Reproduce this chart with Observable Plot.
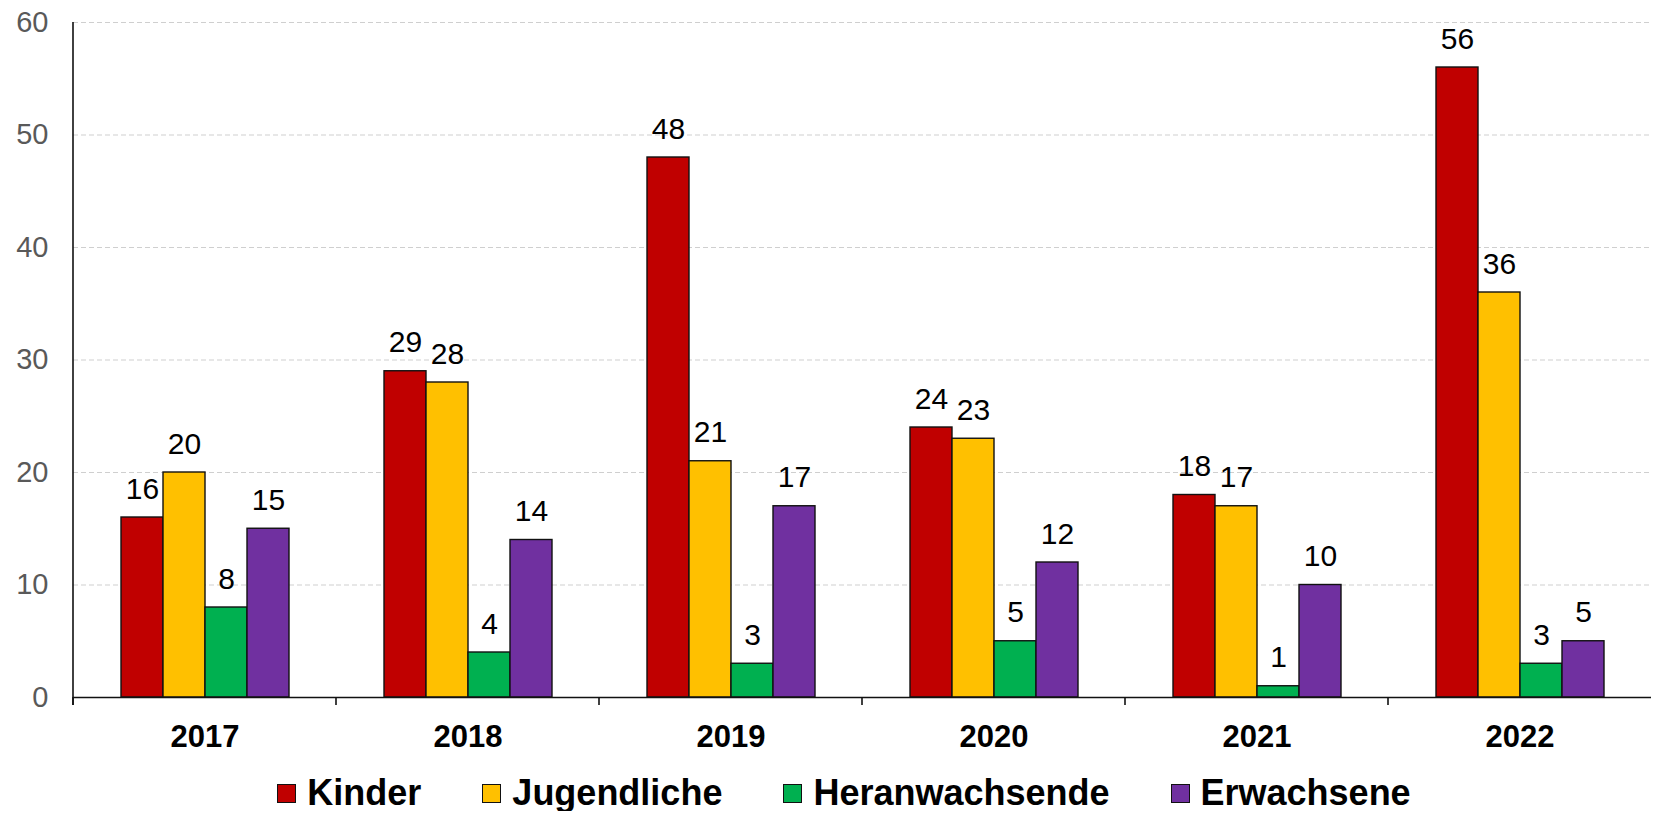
<!DOCTYPE html>
<html>
<head>
<meta charset="utf-8">
<script src="https://cdn.jsdelivr.net/npm/d3@7"></script>
<script src="https://cdn.jsdelivr.net/npm/@observablehq/plot@0.6"></script>
<style>
  html, body { margin: 0; padding: 0; background: #fff; overflow: hidden; }
  body { font-family: "Liberation Sans", Arial, sans-serif; width: 1653px; }
  #legend { display: flex; justify-content: center; padding-left: 35px; box-sizing: border-box; width: 1653px;
            font-weight: bold; font-size: 36px; line-height: 36px; color: #000; white-space: nowrap; }
  .item { margin: 0 30.5px; }
  .sw { display: inline-block; width: 19px; height: 19px; box-sizing: border-box; border: 1.5px solid #111;
        margin-right: 11px; margin-bottom: 2px; vertical-align: baseline; }
</style>
</head>
<body>
<div id="chart"></div>
<div id="legend"></div>
<script>
const years = ["2017", "2018", "2019", "2020", "2021", "2022"];
const series = ["Kinder", "Jugendliche", "Heranwachsende", "Erwachsene"];
const kinder = [16, 29, 48, 24, 18, 56];
const jugendliche = [20, 28, 21, 23, 17, 36];
const heranwachsende = [8, 4, 3, 5, 1, 3];
const erwachsene = [15, 14, 17, 12, 10, 5];
const colors = ["#C00000", "#FFC000", "#00B050", "#7030A0"];
const yTicks = [0, 10, 20, 30, 40, 50, 60];

const values = [kinder, jugendliche, heranwachsende, erwachsene];
const data = [];
years.forEach((yr, i) => series.forEach((s, k) => data.push({year: yr, series: s, value: values[k][i]})));

const chart = Plot.plot({
  width: 1653,
  height: 775,
  marginLeft: 70,
  marginRight: 0,
  marginTop: 22,
  marginBottom: 78,
  style: {fontFamily: "'Liberation Sans', Arial, sans-serif", background: "white", overflow: "visible"},
  fx: {domain: years, padding: 0, label: null},
  x: {domain: series, paddingInner: 0, paddingOuter: 1.09, axis: null},
  y: {domain: [0, 60], axis: null},
  color: {domain: series, range: colors},
  marks: [
    Plot.gridY(yTicks.filter(d => d > 0), {stroke: "#cfcfcf", strokeOpacity: 1, strokeWidth: 1.2, strokeDasharray: "5,3"}),
    Plot.axisY(yTicks, {anchor: "left", tickSize: 0, tickPadding: 25, fontSize: 29, fill: "#595959", label: null}),
    Plot.axisFx({anchor: "bottom", tickSize: 0, tickPadding: 27, fontSize: 31, fontWeight: "bold", fill: "#000", label: null}),
    Plot.barY(data, {fx: "year", x: "series", y: "value", fill: "series", stroke: "#111", strokeWidth: 1.4, inset: 0}),
    Plot.ruleY([0], {stroke: "#111", strokeWidth: 1.6}),
    Plot.text(data, {fx: "year", x: "series", y: "value", text: d => String(d.value), dy: -19, lineAnchor: "bottom", fontSize: 30, fill: "#000"})
  ]
});
document.getElementById("chart").appendChild(chart);

// axis line and category boundary ticks, positioned by the plot's own scales
const fxs = chart.scale("fx");
const ys = chart.scale("y");
const fxBand = d3.scaleBand().domain(fxs.domain).range(fxs.range).padding(0);
const fxAt = v => (fxs.apply ? fxs.apply(v) : fxBand(v));
const y0 = ys.apply(0), yTop = ys.apply(d3.max(yTicks));
const g = d3.select(chart).append("g").attr("stroke", "#111").attr("stroke-width", 1.6);
g.append("line").attr("x1", fxAt(years[0])).attr("x2", fxAt(years[0])).attr("y1", yTop).attr("y2", y0 + 8);
years.forEach(yr => {
  g.append("line").attr("x1", fxAt(yr)).attr("x2", fxAt(yr)).attr("y1", y0).attr("y2", y0 + 8);
});

// legend
const legend = d3.select("#legend");
series.forEach((s, k) => {
  const it = legend.append("span").attr("class", "item");
  it.append("span").attr("class", "sw").style("background", colors[k]);
  it.append("span").text(s);
});
</script>
</body>
</html>
